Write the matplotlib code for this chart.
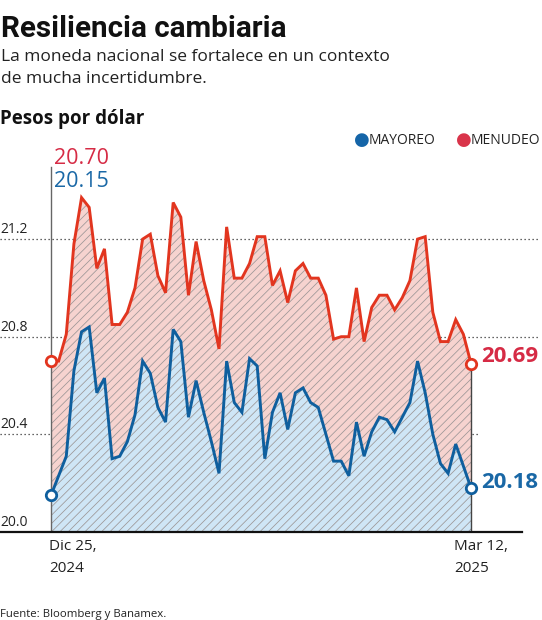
import numpy as np
import pandas as pd
import matplotlib
matplotlib.use("Agg")
import matplotlib.pyplot as plt

# Pesos por dolar, dias habiles del 25 dic 2024 al 12 mar 2025
fechas = pd.bdate_range("2024-12-25", "2025-03-12")
menudeo = [20.70, 20.70, 20.81, 21.18, 21.37, 21.33, 21.08, 21.16, 20.85, 20.85,
           20.90, 21.00, 21.20, 21.22, 21.05, 20.98, 21.35, 21.29, 20.97, 21.19,
           21.03, 20.91, 20.75, 21.25, 21.04, 21.04, 21.10, 21.21, 21.21, 21.01,
           21.07, 20.94, 21.07, 21.10, 21.04, 21.04, 20.97, 20.79, 20.80, 20.80,
           21.00, 20.78, 20.92, 20.97, 20.97, 20.91, 20.96, 21.03, 21.20, 21.21,
           20.90, 20.78, 20.78, 20.87, 20.81, 20.69]
mayoreo = [20.15, 20.23, 20.31, 20.66, 20.82, 20.84, 20.57, 20.63, 20.30, 20.31,
           20.37, 20.48, 20.70, 20.65, 20.51, 20.45, 20.83, 20.78, 20.47, 20.62,
           20.49, 20.37, 20.24, 20.70, 20.53, 20.49, 20.71, 20.68, 20.30, 20.49,
           20.57, 20.42, 20.57, 20.59, 20.53, 20.51, 20.40, 20.29, 20.29, 20.23,
           20.45, 20.31, 20.41, 20.47, 20.46, 20.41, 20.47, 20.53, 20.70, 20.57,
           20.40, 20.28, 20.24, 20.36, 20.27, 20.18]
yticks = [20.0, 20.4, 20.8, 21.2]
xlabels = ["Dic 25,\n2024", "Mar 12,\n2025"]

ROJO = "#e2351f"
ROJO_TXT = "#d62b45"
AZUL = "#0f5f9e"
AZUL_TXT = "#1a68a6"

plt.rcParams["font.family"] = ["Open Sans", "DejaVu Sans"]
plt.rcParams["hatch.color"] = "#9c9696"
plt.rcParams["hatch.linewidth"] = 0.55

W, H = 542, 620
fig = plt.figure(figsize=(W / 100, H / 100), dpi=100)


def fx(px):
    return px / W


def fy(py):
    return 1 - py / H


# axes: x index 0 -> 51px, 55 -> 471px ; y 20.0 -> 531.9px, 244 px per peso
x0, step = 51.0, 420.0 / 55
y_base, ppu = 531.9, 244.0
top_px = 140
ax = fig.add_axes([0, fy(y_base), 1, (y_base - top_px) / H])
ax.set_xlim(-x0 / step, (W - x0) / step)
ax.set_ylim(20.0, 20.0 + (y_base - top_px) / ppu)
ax.axis("off")

x = np.arange(len(fechas))
ax.fill_between(x, 20.0, mayoreo, facecolor="#cfe6f6", edgecolor="none", hatch="////", zorder=1)
ax.fill_between(x, mayoreo, menudeo, facecolor="#f6d3cf", edgecolor="none", hatch="////", zorder=1)

# grid lines
for v in yticks[1:]:
    xmax = 478 / W if v == 20.4 else 540 / W
    ax.axhline(v, xmin=0, xmax=xmax, color="#333333", lw=0.9, ls=(0, (1, 2.2)), zorder=0.5)
    ax.text(0, v + 0.008, f"{v:.1f}", transform=ax.get_yaxis_transform(),
            fontsize=10, color="#222222", va="bottom", ha="left")
ax.text(0, 20.008, "20.0", transform=ax.get_yaxis_transform(),
        fontsize=10, color="#222222", va="bottom", ha="left")

ax.plot(x, menudeo, color=ROJO, lw=2.1, zorder=3, solid_joinstyle="miter")
ax.plot(x, mayoreo, color=AZUL, lw=2.1, zorder=3, solid_joinstyle="miter")

# vertical guides
ax.plot([0, 0], [20.0, 20.0 + (y_base - 167) / ppu], color="#666666", lw=1.0, zorder=2)
ax.plot([x[-1], x[-1]], [20.0, menudeo[-1]], color="#444444", lw=1.0, zorder=2)
ax.axhline(20.0, xmin=0, xmax=522 / W, color="#111111", lw=1.6, zorder=4, clip_on=False)

for serie, col in [(menudeo, ROJO), (mayoreo, AZUL)]:
    ax.plot([x[0], x[-1]], [serie[0], serie[-1]], ls="none", marker="o", ms=7.5,
            mfc="white", mec=col, mew=2.0, zorder=5)

# start / end value labels
fig.text(fx(54), fy(159), f"{menudeo[0]:.2f}", color=ROJO_TXT, fontsize=15.5, va="center", ha="left")
fig.text(fx(54), fy(182), f"{mayoreo[0]:.2f}", color=AZUL_TXT, fontsize=15.5, va="center", ha="left")
fig.text(fx(481), fy(357), f"{menudeo[-1]:.2f}", color=ROJO_TXT, fontsize=16, fontweight="bold",
         va="center", ha="left")
fig.text(fx(481), fy(482), f"{mayoreo[-1]:.2f}", color=AZUL_TXT, fontsize=16, fontweight="bold",
         va="center", ha="left")

# x labels
fig.text(fx(49), fy(539), xlabels[0], fontsize=11, color="#222222", va="top", ha="left", linespacing=1.6)
fig.text(fx(454), fy(539), xlabels[1], fontsize=11, color="#222222", va="top", ha="left", linespacing=1.6)

# legend
fig.text(fx(362), fy(140), "\u25CF", color="#1565a8", fontsize=13, va="center", ha="center",
         family=["DejaVu Sans"])
fig.text(fx(369), fy(140), "MAYOREO", color="#222222", fontsize=10, va="center", ha="left")
fig.text(fx(464), fy(140), "\u25CF", color="#d9344a", fontsize=13, va="center", ha="center",
         family=["DejaVu Sans"])
fig.text(fx(471), fy(140), "MENUDEO", color="#222222", fontsize=10, va="center", ha="left")

# titles
titulo = fig.text(fx(1), fy(37), "Resiliencia cambiaria", family=["Roboto", "DejaVu Sans"],
                  fontweight="bold", fontsize=22, color="#111111", va="baseline", ha="left")
# shrink the headline so it is about as wide as the condensed original
fig.canvas.draw()
ancho = titulo.get_window_extent().width
titulo.set_fontsize(22 * min(1.0, 285 / ancho))
fig.text(fx(1), fy(61), "La moneda nacional se fortalece en un contexto", fontsize=12.5,
         color="#222222", va="baseline", ha="left")
fig.text(fx(1), fy(83), "de mucha incertidumbre.", fontsize=12.5,
         color="#222222", va="baseline", ha="left")
fig.text(fx(0), fy(124), "Pesos por dólar", fontsize=13.5, fontweight="bold",
         color="#111111", va="baseline", ha="left")
fig.text(fx(0), fy(617), "Fuente: Bloomberg y Banamex.", fontsize=8.2,
         color="#222222", va="baseline", ha="left")

fig.savefig("out.png", dpi=100, facecolor="white")
